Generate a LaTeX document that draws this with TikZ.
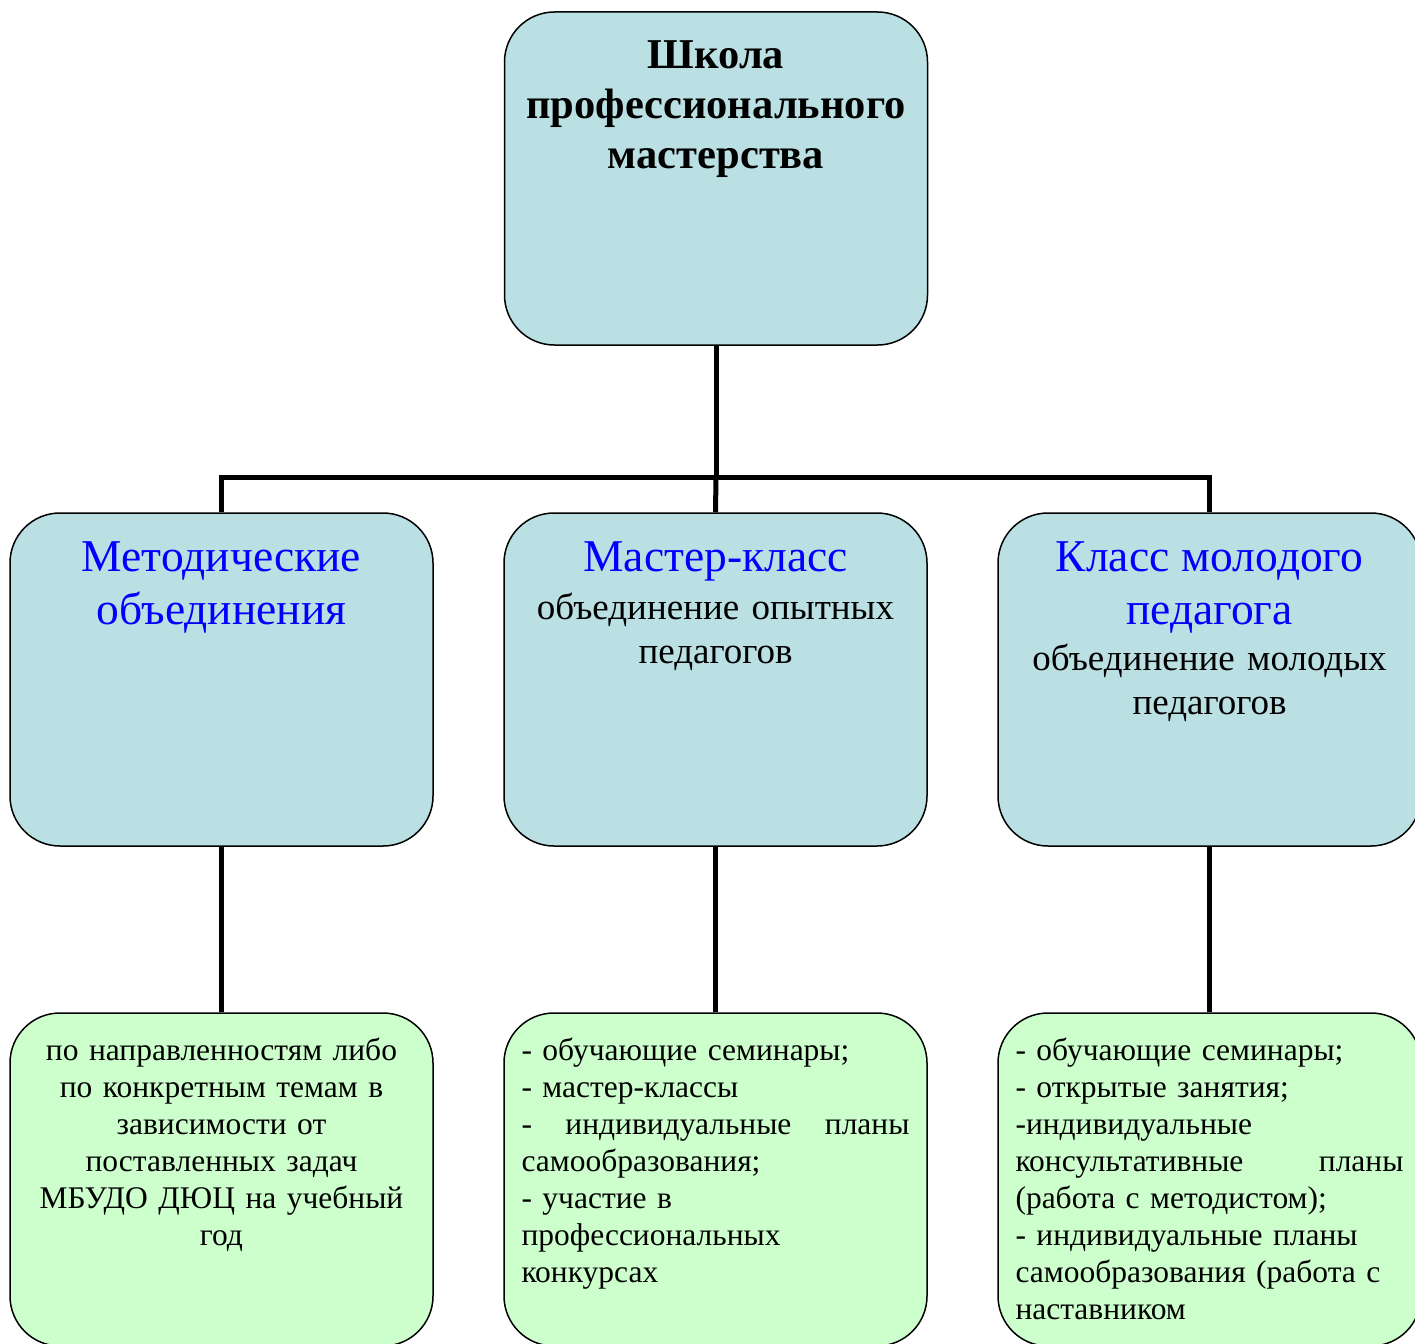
\documentclass[tikz,border=0pt]{standalone}
\usepackage{fontspec}
\setmainfont{Liberation Serif}
\usetikzlibrary{positioning}
\definecolor{boxblue}{RGB}{186,224,227}
\definecolor{boxgreen}{RGB}{204,255,204}
\newcommand{\headfont}{\fontsize{45.5}{53}\selectfont\color{blue}}
\newcommand{\midfont}{\fontsize{37}{44}\selectfont}
\newcommand{\lowfont}{\fontsize{31.5}{37}\selectfont}

\begin{document}
\begin{tikzpicture}
[x=1pt,y=-1pt,
block/.style ={rectangle, draw, line width=1.5pt, rounded corners=50pt, minimum width=423pt, minimum height=333pt, fill=boxblue},
leaf/.style ={block, fill=boxgreen},
boxtext/.style ={anchor=north, text width=388pt, inner sep=0pt},
conn/.style ={line width=5pt}]
\useasboundingbox (0,0) rectangle (1415,1343);
% school and its three parts
\node[block] (school) at (716,178.5) {};
\node[block] (metod) at (221.5,679.5) {};
\node[block] (master) at (715.5,679.5) {};
\node[block] (young) at (1209.5,679.5) {};
% what each part does
\node[leaf] (metodwork) at (221.5,1179.5) {};
\node[leaf] (masterwork) at (715.5,1179.5) {};
\node[leaf] (youngwork) at (1209.5,1179.5) {};
\coordinate (bus) at (716,477);
% connectors
\draw[conn] (school.south) -- (bus);
\draw[conn] (metod.north) |- (bus) -| (young.north);
\draw[conn] (master.north) -- (bus);
\draw[conn] (metod.south) -- (metodwork.north);
\draw[conn] (master.south) -- (masterwork.north);
\draw[conn] (young.south) -- (youngwork.north);
% texts
\node[boxtext, align=center, text width=410pt, font=\fontsize{42.5}{50}\selectfont\bfseries] (schooltxt) at ([yshift=-29pt]school.north)
  {Школа\\профессионального\\мастерства};
\node[boxtext, align=center, font=\headfont] (metodtxt) at ([yshift=-29pt]metod.north)
  {Методические\\объединения};
\node[boxtext, align=center, text width=400pt, font=\midfont] (mastertxt) at ([yshift=-29pt]master.north)
  {{\headfont Мастер-класс\par}\vspace{4pt}объединение опытных\\педагогов};
\node[boxtext, align=center, text width=400pt, font=\midfont] (youngtxt) at ([yshift=-29pt]young.north)
  {{\headfont Класс молодого\\педагога\par}\vspace{2pt}объединение молодых\\педагогов};
\node[boxtext, align=center, text width=400pt, font=\lowfont] (metodworktxt) at ([yshift=-25pt]metodwork.north)
  {по направленностям либо\\по конкретным темам в\\зависимости от\\поставленных задач\\МБУДО ДЮЦ на учебный\\год};
\node[boxtext, align=left, font=\lowfont] (masterworktxt) at ([yshift=-25pt]masterwork.north)
  {- обучающие семинары;\\- мастер-классы\\-\hfill индивидуальные\hfill планы\\самообразования;\\- участие в\\профессиональных\\конкурсах};
\node[boxtext, align=left, font=\lowfont] (youngworktxt) at ([yshift=-25pt]youngwork.north)
  {- обучающие семинары;\\- открытые занятия;\\-индивидуальные\\консультативные\hfill планы\\(работа с методистом);\\- индивидуальные планы\\самообразования (работа с\\наставником};
\end{tikzpicture}
\end{document}
